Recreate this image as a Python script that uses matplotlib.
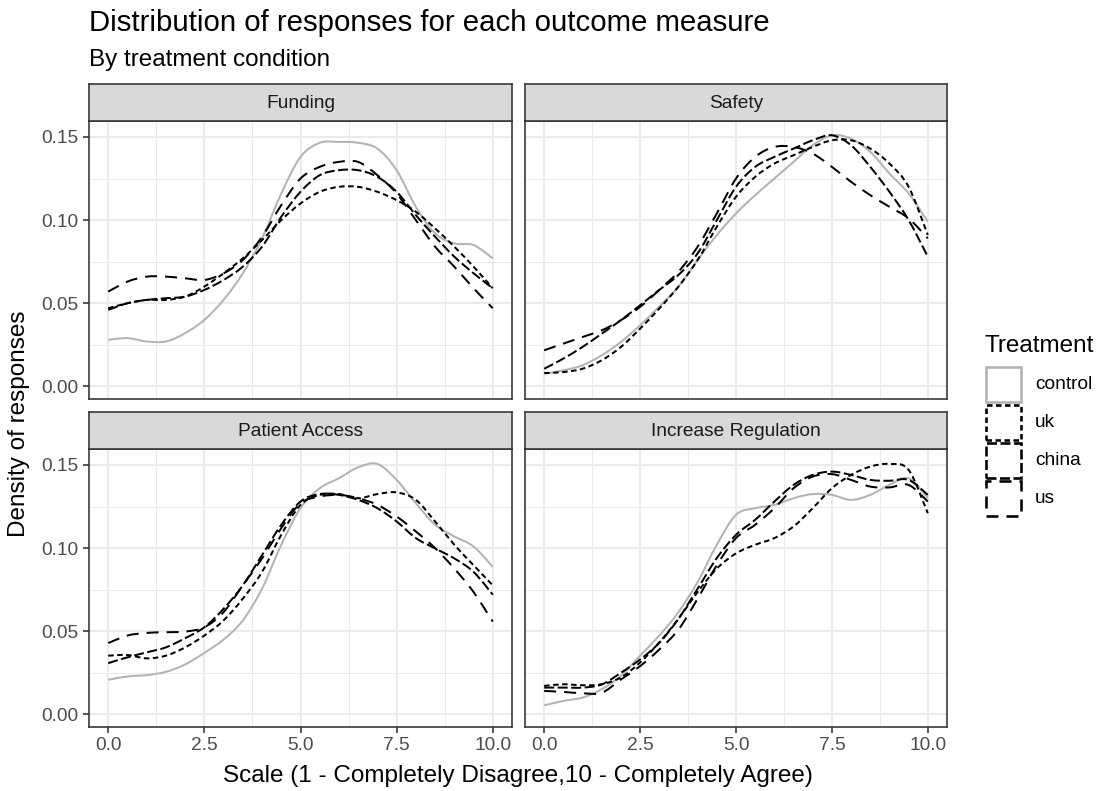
import numpy as np
import matplotlib
matplotlib.use("Agg")
import matplotlib.pyplot as plt
from matplotlib.patches import Rectangle, PathPatch
from matplotlib.path import Path

plt.rcParams['font.family'] = ['Liberation Sans', 'DejaVu Sans']
plt.rcParams['lines.scale_dashes'] = False

# ---------------- data ----------------
x_vals = [0.0, 0.5, 1.0, 1.5, 2.0, 2.5, 3.0, 3.5, 4.0, 4.5, 5.0,
          5.5, 6.0, 6.5, 7.0, 7.5, 8.0, 8.5, 9.0, 9.5, 10.0]

treatments = ["control", "uk", "china", "us"]
panels = ["Funding", "Safety", "Patient Access", "Increase Regulation"]

funding_control = [0.028, 0.029, 0.027, 0.027, 0.032, 0.040, 0.052, 0.068, 0.089, 0.116, 0.138,
                   0.1465, 0.147, 0.1465, 0.143, 0.130, 0.108, 0.092, 0.086, 0.085, 0.077]
funding_uk = [0.047, 0.050, 0.052, 0.052, 0.054, 0.060, 0.068, 0.077, 0.088, 0.100, 0.110,
              0.117, 0.120, 0.120, 0.117, 0.112, 0.105, 0.095, 0.084, 0.072, 0.059]
funding_china = [0.046, 0.050, 0.052, 0.053, 0.054, 0.058, 0.064, 0.072, 0.084, 0.102, 0.117,
                 0.127, 0.130, 0.130, 0.126, 0.117, 0.103, 0.090, 0.078, 0.068, 0.059]
funding_us = [0.057, 0.063, 0.066, 0.066, 0.065, 0.064, 0.068, 0.076, 0.090, 0.109, 0.125,
              0.132, 0.135, 0.135, 0.127, 0.116, 0.100, 0.084, 0.072, 0.059, 0.047]

safety_control = [0.0076, 0.0096, 0.0127, 0.0187, 0.0267, 0.0367, 0.048, 0.060, 0.076, 0.091, 0.104,
                  0.115, 0.125, 0.135, 0.145, 0.151, 0.149, 0.141, 0.128, 0.116, 0.099]
safety_uk = [0.008, 0.0086, 0.0106, 0.0157, 0.0237, 0.0347, 0.0468, 0.060, 0.076, 0.096, 0.114,
             0.126, 0.134, 0.139, 0.144, 0.148, 0.148, 0.143, 0.134, 0.120, 0.091]
safety_china = [0.0106, 0.0167, 0.0237, 0.0317, 0.0398, 0.0488, 0.058, 0.067, 0.080, 0.100, 0.120,
                0.132, 0.138, 0.143, 0.148, 0.151, 0.145, 0.132, 0.117, 0.100, 0.078]
safety_us = [0.0217, 0.0257, 0.0297, 0.0337, 0.0398, 0.0478, 0.058, 0.069, 0.084, 0.104, 0.125,
             0.138, 0.144, 0.144, 0.140, 0.132, 0.123, 0.115, 0.108, 0.101, 0.089]

access_control = [0.0208, 0.0228, 0.0236, 0.0256, 0.030, 0.037, 0.045, 0.0565, 0.0756, 0.102, 0.124,
                  0.136, 0.142, 0.1486, 0.1506, 0.141, 0.127, 0.114, 0.107, 0.101, 0.0887]
access_uk = [0.0353, 0.0357, 0.0337, 0.0353, 0.0403, 0.0474, 0.0565, 0.0696, 0.0857, 0.108, 0.126,
             0.132, 0.1325, 0.130, 0.1325, 0.1335, 0.129, 0.116, 0.102, 0.0897, 0.0776]
access_china = [0.0308, 0.0343, 0.0373, 0.0403, 0.0458, 0.0524, 0.0635, 0.0776, 0.0958, 0.114, 0.128,
                0.1325, 0.132, 0.129, 0.124, 0.116, 0.106, 0.0998, 0.0938, 0.0857, 0.072]
access_us = [0.0429, 0.0474, 0.049, 0.0494, 0.0498, 0.0524, 0.0615, 0.0776, 0.0938, 0.112, 0.127,
             0.131, 0.132, 0.130, 0.126, 0.119, 0.110, 0.100, 0.0877, 0.0736, 0.0558]

regulation_control = [0.0054, 0.0081, 0.0101, 0.0151, 0.0232, 0.0353, 0.0474, 0.0615, 0.0796, 0.102, 0.120,
                      0.124, 0.126, 0.130, 0.1325, 0.132, 0.129, 0.132, 0.138, 0.142, 0.130]
regulation_uk = [0.0171, 0.0181, 0.0175, 0.0181, 0.0222, 0.0312, 0.0433, 0.0575, 0.0736, 0.0877, 0.0968,
                 0.102, 0.106, 0.113, 0.124, 0.136, 0.144, 0.149, 0.1506, 0.147, 0.121]
regulation_china = [0.0161, 0.0161, 0.0161, 0.018, 0.025, 0.033, 0.043, 0.0575, 0.0756, 0.094, 0.108,
                    0.117, 0.128, 0.138, 0.144, 0.146, 0.144, 0.141, 0.1405, 0.141, 0.132]
regulation_us = [0.0141, 0.0135, 0.0127, 0.013, 0.021, 0.029, 0.039, 0.051, 0.0696, 0.0897, 0.106,
                 0.114, 0.124, 0.136, 0.143, 0.1445, 0.141, 0.137, 0.1365, 0.138, 0.128]

panel_data = {
    "Funding": [funding_control, funding_uk, funding_china, funding_us],
    "Safety": [safety_control, safety_uk, safety_china, safety_us],
    "Patient Access": [access_control, access_uk, access_china, access_us],
    "Increase Regulation": [regulation_control, regulation_uk, regulation_china, regulation_us],
}

x_ticks = [0.0, 2.5, 5.0, 7.5, 10.0]
x_tick_labels = ["0.0", "2.5", "5.0", "7.5", "10.0"]
y_ticks = [0.00, 0.05, 0.10, 0.15]
y_tick_labels = ["0.00", "0.05", "0.10", "0.15"]

# ---------------- styles ----------------
W, H = 1102, 791
PX = 72.0 / 100.0  # points per pixel at dpi 100
styles = {
    "control": dict(color="#b3b3b3", dashes=None),
    "uk": dict(color="black", dashes=(5.5 * PX, 3.5 * PX)),
    "china": dict(color="black", dashes=(10 * PX, 3.5 * PX)),
    "us": dict(color="black", dashes=(12 * PX, 8 * PX)),
}
line_w = 2.0 * PX
grid_col = "#ebebeb"
dark = "#333333"
tick_col = "#4d4d4d"
FS_TICK = 13.8
FS_AXIS = 17.5

fig = plt.figure(figsize=(W / 100, H / 100), dpi=100)
fig.patch.set_facecolor("white")


def fbox(l, t, r, b):
    return [l / W, 1 - b / H, (r - l) / W, (b - t) / H]


def smooth_path(xs, ys):
    """Smooth rendering path (Catmull-Rom as cubic Bezier) through the read points."""
    pts = np.column_stack([xs, ys]).astype(float)
    n = len(pts)
    verts = [pts[0]]
    codes = [Path.MOVETO]
    for k in range(n - 1):
        p0 = pts[max(k - 1, 0)]
        p1 = pts[k]
        p2 = pts[k + 1]
        p3 = pts[min(k + 2, n - 1)]
        c1 = p1 + (p2 - p0) / 6.0
        c2 = p2 - (p3 - p1) / 6.0
        verts += [c1, c2, p2]
        codes += [Path.CURVE4, Path.CURVE4, Path.CURVE4]
    return Path(np.array(verts), codes)


cols = [(89, 512), (525, 947)]
rows = [(84, 121, 399), (412, 449, 727)]

for i, name in enumerate(panels):
    c = cols[i % 2]
    rr = rows[i // 2]
    ax = fig.add_axes(fbox(c[0], rr[1], c[1], rr[2]))
    ax.set_xlim(-0.5, 10.5)
    ax.set_ylim(-0.0076, 0.1596)
    # grid
    for gx in [1.25, 3.75, 6.25, 8.75]:
        ax.axvline(gx, color=grid_col, lw=1.0 * PX, zorder=0)
    for gy in [0.025, 0.075, 0.125]:
        ax.axhline(gy, color=grid_col, lw=1.0 * PX, zorder=0)
    for gx in x_ticks:
        ax.axvline(gx, color=grid_col, lw=2.0 * PX, zorder=0)
    for gy in y_ticks:
        ax.axhline(gy, color=grid_col, lw=2.0 * PX, zorder=0)

    for t, series in zip(treatments, panel_data[name]):
        st = styles[t]
        ls = "-" if st["dashes"] is None else (0, st["dashes"])
        patch = PathPatch(smooth_path(x_vals, series), fill=False,
                          edgecolor=st["color"], lw=line_w, linestyle=ls,
                          capstyle="butt", zorder=2)
        ax.add_patch(patch)

    for sp in ax.spines.values():
        sp.set_color(dark)
        sp.set_linewidth(1.6 * PX)
        sp.set_zorder(5)

    ax.set_xticks(x_ticks)
    ax.set_yticks(y_ticks)
    ax.tick_params(axis="both", length=6 * PX, width=1.6 * PX, color=dark,
                   labelcolor=tick_col, labelsize=FS_TICK, pad=3)
    if i // 2 == 1:
        ax.set_xticklabels(x_tick_labels)
    else:
        ax.tick_params(axis="x", length=0, labelbottom=False)
    if i % 2 == 0:
        ax.set_yticklabels(y_tick_labels)
    else:
        ax.tick_params(axis="y", length=0, labelleft=False)

    # strip
    sax = fig.add_axes(fbox(c[0], rr[0], c[1], rr[1]))
    sax.set_facecolor("#d9d9d9")
    sax.set_xticks([])
    sax.set_yticks([])
    for sp in sax.spines.values():
        sp.set_color(dark)
        sp.set_linewidth(1.6 * PX)
    sax.text(0.5, 0.48, name, ha="center", va="center", fontsize=FS_TICK,
             color="#1a1a1a", transform=sax.transAxes)

# titles
fig.text(89 / W, 1 - 31 / H, "Distribution of responses for each outcome measure",
         fontsize=21.2, ha="left", va="baseline", color="black")
fig.text(89 / W, 1 - 66 / H, "By treatment condition",
         fontsize=17.5, ha="left", va="baseline", color="black")

# axis titles
fig.text(518 / W, 1 - 782 / H, "Scale (1 - Completely Disagree,10 - Completely Agree)",
         fontsize=FS_AXIS, ha="center", va="baseline", color="black")
fig.text(19 / W, 1 - 424 / H, "Density of responses", fontsize=FS_AXIS, rotation=90,
         ha="center", va="center", color="black")

# legend (drawn manually, ggplot style keys)
fig.text(985 / W, 1 - 352 / H, "Treatment", fontsize=FS_AXIS, ha="left",
         va="baseline", color="black")
key_tops = [367, 405, 443, 481]
for t, kt in zip(treatments, key_tops):
    st = styles[t]
    rect = Rectangle((986 / W, 1 - (kt + 35) / H), 35 / W, 35 / H,
                     transform=fig.transFigure, facecolor="white",
                     edgecolor=st["color"], lw=2.6 * PX)
    if st["dashes"] is not None:
        rect.set_linestyle((0, st["dashes"]))
    fig.add_artist(rect)
    fig.text(1035 / W, 1 - (kt + 17.5) / H, t, fontsize=FS_TICK, ha="left",
             va="center", color="black")

fig.savefig("out.png", dpi=100)
